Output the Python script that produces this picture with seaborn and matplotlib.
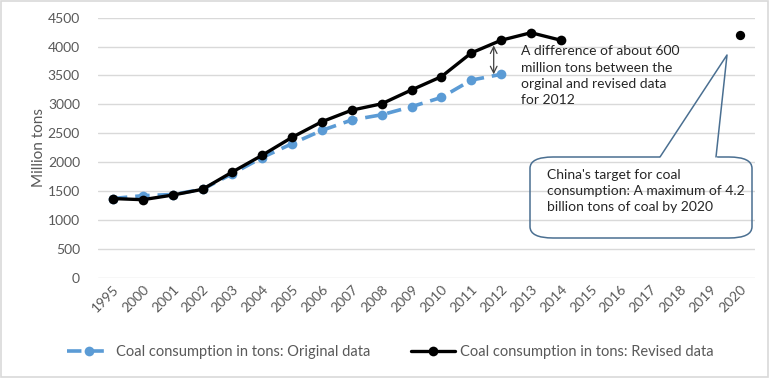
import numpy as np
import pandas as pd
import matplotlib
matplotlib.use('Agg')
import matplotlib.pyplot as plt
import seaborn as sns
from matplotlib.patches import FancyBboxPatch, Rectangle
from matplotlib.lines import Line2D

# data
years = ['1995', '2000', '2001', '2002', '2003', '2004', '2005', '2006', '2007', '2008',
         '2009', '2010', '2011', '2012', '2013', '2014', '2015', '2016', '2017', '2018',
         '2019', '2020']
orig_years = ['1995', '2000', '2001', '2002', '2003', '2004', '2005', '2006', '2007',
              '2008', '2009', '2010', '2011', '2012']
orig_vals = [1370, 1420, 1440, 1530, 1800, 2080, 2320, 2550, 2730, 2820, 2960, 3120, 3420, 3520]
rev_years = ['1995', '2000', '2001', '2002', '2003', '2004', '2005', '2006', '2007',
             '2008', '2009', '2010', '2011', '2012', '2013', '2014']
rev_vals = [1370, 1350, 1430, 1530, 1830, 2120, 2430, 2700, 2900, 3010, 3250, 3480, 3890, 4110,
            4240, 4110]
target_year = ['2020']
target_val = [4200]

sns.set_style('whitegrid', {'grid.color': '#d9d9d9', 'axes.edgecolor': '#d9d9d9'})
plt.rcParams['font.family'] = ['Lato', 'DejaVu Sans']

W, H = 770, 378
def px(x, y):
    return x / W, 1 - y / H

df_orig = pd.DataFrame({'x': [years.index(y) for y in orig_years], 'v': orig_vals})
df_rev = pd.DataFrame({'x': [years.index(y) for y in rev_years], 'v': rev_vals})
df_tgt = pd.DataFrame({'x': [years.index(y) for y in target_year], 'v': target_val})

fig = plt.figure(figsize=(7.7, 3.78), dpi=100)
ax = fig.add_axes([98 / W, 1 - 277.7 / H, (755 - 98) / W, (277.7 - 17.7) / H])

blue = '#5b9bd5'
sns.lineplot(data=df_orig, x='x', y='v', ax=ax, color=blue, lw=2.6, marker='o',
             markersize=7, markeredgewidth=0, dashes=False, linestyle=(0, (4, 2.2)))
sns.lineplot(data=df_rev, x='x', y='v', ax=ax, color='black', lw=2.4, marker='o',
             markersize=7, markeredgewidth=0)
sns.scatterplot(data=df_tgt, x='x', y='v', ax=ax, color='black', s=45, linewidth=0, zorder=5)

ax.set_xlim(-0.5, len(years) - 0.5)
ax.set_ylim(0, 4500)
ax.set_yticks(np.arange(0, 4501, 500))
ax.set_xticks(range(len(years)))
ax.set_xticklabels(years, rotation=45, ha='right', rotation_mode='anchor')
ax.grid(axis='x', visible=False)
ax.grid(axis='y', color='#d9d9d9', lw=1)
for s in ax.spines.values():
    s.set_visible(False)
ax.tick_params(axis='both', colors='#595959', labelsize=10, length=0)
ax.tick_params(axis='x', pad=4)
ax.tick_params(axis='y', pad=13)
ax.set_xlabel('')
ax.set_ylabel('Million tons', color='#595959', fontsize=11, labelpad=1)

# difference arrow at 2012
ax.annotate('', xy=(12.75, 3520), xytext=(12.75, 4020),
            arrowprops=dict(arrowstyle='<->', color='#404040', lw=0.9,
                            shrinkA=0, shrinkB=0, mutation_scale=12))
fig.text(*px(521, 45), 'A difference of about 600\nmillion tons between the\n'
         'orginal and revised data\nfor 2012', fontsize=10, color='#262626',
         va='top', ha='left', linespacing=1.45)

# callout box
edge = '#4a6f91'
x0, y0 = px(530, 238)
x1, y1 = px(752, 157)
box = FancyBboxPatch((x0, y0), x1 - x0, y1 - y0, boxstyle='round,pad=0,rounding_size=0.03',
                     transform=fig.transFigure, fill=False, ec=edge, lw=1.1)
fig.patches.append(box)
bx0, by = px(661, 157)
bx1, _ = px(715, 157)
fig.add_artist(Line2D([bx0, bx1], [by, by], color='white', lw=2.5, transform=fig.transFigure))
ax_, ay_ = px(727, 55)
fig.add_artist(Line2D([px(660, 157)[0], ax_, px(716, 157)[0]], [by, ay_, by], color=edge,
                      lw=1.1, transform=fig.transFigure))
fig.text(*px(547, 169), "China's target for coal\nconsumption: A maximum of 4.2\n"
         "billion tons of coal by 2020", fontsize=10, color='#262626',
         va='top', ha='left', linespacing=1.4)

# legend
h1 = Line2D([], [], color=blue, lw=2.6, ls=(0, (4, 2.2)), marker='o', markersize=7,
            markeredgewidth=0)
h2 = Line2D([], [], color='black', lw=2.4, marker='o', markersize=7, markeredgewidth=0)
fig.legend([h1, h2], ['Coal consumption in tons: Original data',
                      'Coal consumption in tons: Revised data'],
           loc='center', bbox_to_anchor=px(390, 352), ncol=2, frameon=False,
           fontsize=10.5, handlelength=3, handletextpad=0.35, columnspacing=2.8,
           labelcolor='#595959')

# outer border
fig.patches.append(Rectangle((0.001, 0.002), 0.997, 0.996, transform=fig.transFigure,
                             fill=False, ec='#d9d9d9', lw=1.2))

fig.savefig('out.png', dpi=100)
